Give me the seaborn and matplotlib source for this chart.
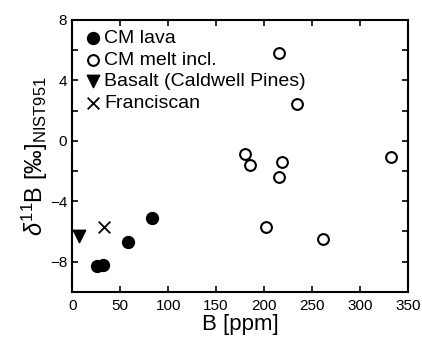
import numpy as np
import pandas as pd
import matplotlib
matplotlib.use("Agg")
import matplotlib.pyplot as plt
import seaborn as sns

# data
lava_b = [26, 32, 58, 83]
lava_d = [-8.3, -8.2, -6.7, -5.1]
melt_b = [215, 234, 180, 185, 219, 332, 215, 202, 261]
melt_d = [5.8, 2.4, -0.9, -1.6, -1.4, -1.1, -2.4, -5.7, -6.5]
basalt_b = [7]
basalt_d = [-6.3]
fran_b = [33]
fran_d = [-5.7]

groups = ["CM lava", "CM melt incl.", "Basalt (Caldwell Pines)", "Franciscan"]

df = pd.concat([
    pd.DataFrame({"B": lava_b, "d11B": lava_d, "group": groups[0]}),
    pd.DataFrame({"B": melt_b, "d11B": melt_d, "group": groups[1]}),
    pd.DataFrame({"B": basalt_b, "d11B": basalt_d, "group": groups[2]}),
    pd.DataFrame({"B": fran_b, "d11B": fran_d, "group": groups[3]}),
])

sns.set_style("ticks")
plt.rcParams['font.family'] = ['Liberation Sans', 'DejaVu Sans']
plt.rcParams['mathtext.fontset'] = 'custom'
plt.rcParams['mathtext.rm'] = 'Liberation Sans'
plt.rcParams['mathtext.it'] = 'Liberation Sans:italic'
for k in ['text.color', 'axes.labelcolor', 'xtick.color', 'ytick.color', 'axes.edgecolor']:
    plt.rcParams[k] = 'black'

fig = plt.figure(figsize=(4.22, 3.37), dpi=100)
ax = fig.add_axes([0.171, 0.134, 0.796, 0.807])

styles = {
    groups[0]: dict(marker="o", facecolor="black", edgecolor="black", s=70, linewidth=1.2),
    groups[1]: dict(marker="o", facecolor="white", edgecolor="black", s=60, linewidth=1.5),
    groups[2]: dict(marker="v", facecolor="black", edgecolor="black", s=80, linewidth=1.0),
    groups[3]: dict(marker="x", color="black", s=70, linewidth=1.3),
}
for g in groups:
    sub = df[df["group"] == g]
    st = styles[g]
    if st["marker"] == "x":
        sns.scatterplot(data=sub, x="B", y="d11B", ax=ax, marker="x", color="black",
                        s=st["s"], linewidth=st["linewidth"], label=g)
    else:
        sns.scatterplot(data=sub, x="B", y="d11B", ax=ax, marker=st["marker"],
                        facecolor=st["facecolor"], edgecolor=st["edgecolor"],
                        s=st["s"], linewidth=st["linewidth"], label=g)

ax.set_xlim(0, 350)
ax.set_ylim(-10, 8)
ax.set_xticks(np.arange(0, 351, 50))
ax.set_yticks([-8, -4, 0, 4, 8])
ax.set_yticks([-10, -6, -2, 2, 6], minor=True)
ax.tick_params(axis="both", which="both", direction="in", top=True, right=True,
               labelsize=11, width=1.2, length=4)
ax.tick_params(axis="both", which="minor", length=4)
ax.tick_params(axis="x", pad=5)
for sp in ax.spines.values():
    sp.set_linewidth(1.5)

ax.set_xlabel("B [ppm]", fontsize=16, labelpad=1)
ax.set_ylabel(r"$\delta^{11}$B [‰]$_{\rm NIST951}$", fontsize=17, labelpad=0)

leg = ax.legend(loc="upper left", frameon=False, fontsize=14, handletextpad=0.05,
                borderaxespad=0.1, labelspacing=0.2, handlelength=1.1,
                borderpad=0.4)

fig.savefig("out.png", dpi=100)
